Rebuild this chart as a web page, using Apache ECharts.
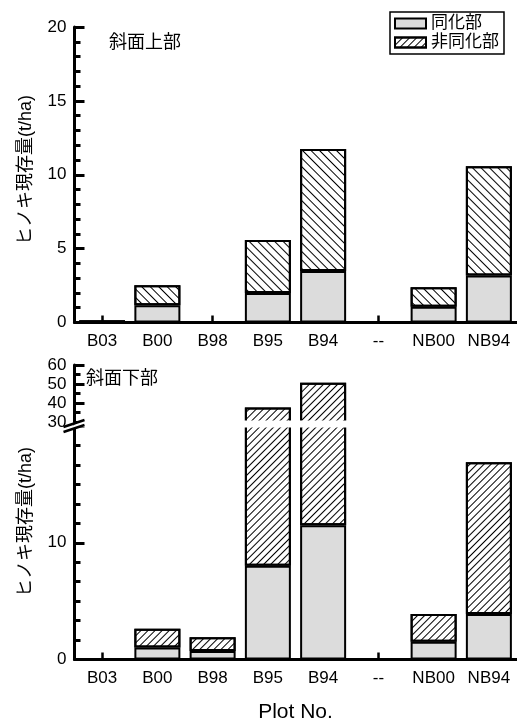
<!DOCTYPE html>
<html>
<head>
<meta charset="utf-8">
<script src="https://cdn.jsdelivr.net/npm/echarts@6/dist/echarts.min.js"></script>
<style>
html,body{margin:0;padding:0;background:#fff;}
#c{width:517px;height:719px;}
</style>
</head>
<body>
<div id="c"></div>
<script>
// ---- data ----
const categories = ['B03', 'B00', 'B98', 'B95', 'B94', '--', 'NB00', 'NB94'];
// 斜面上部
const upperAssim    = [0.08, 1.17, 0, 2.00, 3.49, 0, 1.06, 3.18];
const upperNonAssim = [0.02, 1.35, 0, 3.59, 8.26, 0, 1.33, 7.40];
// 斜面下部
const lowerAssim    = [0, 1.03, 0.72, 8.04, 11.49, 0, 1.52, 3.90];
const lowerNonAssim = [0, 1.61, 1.18, 29.56, 39.21, 0, 2.38, 13.00];
const seriesNames = ['同化部', '非同化部'];
const panelTitles = ['斜面上部', '斜面下部'];
const yName = 'ヒノキ現存量(t/ha)';
const xName = 'Plot No.';
const breakLow = 20, breakHigh = 30;

// ---- layout ----
const FONT = "'Liberation Sans', 'Noto Sans CJK JP', sans-serif";
const AX = 74.5, W = 442;
const topG = {top: 27, h: 295.5};
const upG = {top: 365, bottom: 422};
const loG = {top: 426, bottom: 659.5};

const lowerTotals = lowerAssim.map((v, i) => v + lowerNonAssim[i]);
const brokenTop = lowerTotals.map(v => v > breakHigh ? v : null);

const black = '#000';
const grayFill = '#dcdcdc';
const barBase = {color: grayFill, borderColor: black, borderWidth: 2};
const hatch = (rot, gap) => ({
  color: '#fff', borderColor: black, borderWidth: 2,
  decal: {symbol: 'rect', symbolSize: 1, dashArrayX: [1, 0], dashArrayY: [1, gap], rotation: rot, color: black}
});
const hatchTop = hatch(Math.PI / 4, 5);
const hatchBot = hatch(-Math.PI / 4, 4);

const axisText = {color: black, fontSize: 17, fontFamily: FONT};

function xAx(grid, show, name) {
  return {
    type: 'category', gridIndex: grid, data: categories, show: show,
    axisLine: {lineStyle: {color: black, width: 3}},
    axisTick: {show: true, inside: true, alignWithLabel: true, interval: 0, length: 7, lineStyle: {color: black, width: 2.5}},
    axisLabel: Object.assign({margin: 10, interval: 0, hideOverlap: false}, axisText),
    name: name || '', nameLocation: 'middle', nameGap: 42,
    nameTextStyle: {color: black, fontSize: 21, fontFamily: FONT}
  };
}
function yAx(grid, min, max, interval, minorSplit, fmt) {
  return {
    type: 'value', gridIndex: grid, min: min, max: max, interval: interval,
    axisLine: {show: true, lineStyle: {color: black, width: 3}},
    axisTick: {show: true, inside: true, length: 10, lineStyle: {color: black, width: 3}},
    minorTick: {show: true, splitNumber: minorSplit, length: 6, lineStyle: {color: black, width: 3}},
    splitLine: {show: false},
    axisLabel: Object.assign({margin: 8, formatter: fmt || (v => v)}, axisText)
  };
}

const chart = echarts.init(document.getElementById('c'), null, {renderer: 'canvas'});
const option = {
  animation: false,
  backgroundColor: '#fff',
  textStyle: {fontFamily: FONT},
  grid: [
    {left: AX, top: topG.top, width: W, height: topG.h, outerBoundsMode: 'none'},
    {left: AX, top: upG.top, width: W, height: upG.bottom - upG.top, outerBoundsMode: 'none'},
    {left: AX, top: loG.top, width: W, height: loG.bottom - loG.top, outerBoundsMode: 'none'}
  ],
  xAxis: [xAx(0, true), xAx(1, false), xAx(2, true, xName)],
  yAxis: [
    yAx(0, 0, 20, 5, 5),
    yAx(1, breakHigh, 60, 10, 2),
    yAx(2, 0, breakLow, 10, 6, v => (v === breakLow ? '' : v))
  ],
  legend: {
    left: 390, top: 12, orient: 'vertical', icon: 'rect',
    itemWidth: 31, itemHeight: 10, itemGap: 2,
    padding: [3, 5, 3, 4],
    borderColor: black, borderWidth: 1.5,
    textStyle: {color: black, fontSize: 17, fontFamily: FONT},
    data: seriesNames
  },
  series: [
    {name: seriesNames[0], type: 'bar', xAxisIndex: 2, yAxisIndex: 2, stack: 'lo', barWidth: 46, data: lowerAssim, itemStyle: barBase},
    {name: seriesNames[1], type: 'bar', xAxisIndex: 2, yAxisIndex: 2, stack: 'lo', barWidth: 46, data: lowerNonAssim, itemStyle: hatchBot},
    {name: seriesNames[1], type: 'bar', xAxisIndex: 1, yAxisIndex: 1, barWidth: 46, data: brokenTop, itemStyle: hatchBot},
    {name: seriesNames[0], type: 'bar', xAxisIndex: 0, yAxisIndex: 0, stack: 'up', barWidth: 46, data: upperAssim, itemStyle: barBase},
    {name: seriesNames[1], type: 'bar', xAxisIndex: 0, yAxisIndex: 0, stack: 'up', barWidth: 46, data: upperNonAssim, itemStyle: hatchTop}
  ],
  graphic: [
    // white gap for the broken axis
    {type: 'rect', z: 100, shape: {x: AX + 2.5, y: upG.bottom - 1.5, width: W, height: loG.top - upG.bottom + 3}, style: {fill: '#fff'}},
    // break marks
    {type: 'line', z: 101, shape: {x1: AX - 11, y1: upG.bottom + 5, x2: AX + 10, y2: upG.bottom - 2}, style: {stroke: black, lineWidth: 2.5}},
    {type: 'line', z: 101, shape: {x1: AX - 11, y1: upG.bottom + 10, x2: AX + 10, y2: upG.bottom + 3}, style: {stroke: black, lineWidth: 2.5}},
    {type: 'line', z: 100, shape: {x1: AX - 9, y1: upG.bottom + 7.5, x2: AX + 8, y2: upG.bottom + 1.5}, style: {stroke: '#fff', lineWidth: 2.5}},
    // panel titles
    {type: 'text', z: 102, left: 109, top: 34, style: {text: panelTitles[0], fill: black, font: '18px ' + FONT}},
    {type: 'text', z: 102, left: 86, top: 370, style: {text: panelTitles[1], fill: black, font: '18px ' + FONT}},
    // y axis names
    {type: 'text', z: 102, x: 26, y: 170, rotation: Math.PI / 2,
      style: {text: yName, fill: black, font: '18px ' + FONT, align: 'center', verticalAlign: 'middle'}},
    {type: 'text', z: 102, x: 26, y: 522, rotation: Math.PI / 2,
      style: {text: yName, fill: black, font: '18px ' + FONT, align: 'center', verticalAlign: 'middle'}}
  ]
};
chart.setOption(option);
</script>
</body>
</html>
